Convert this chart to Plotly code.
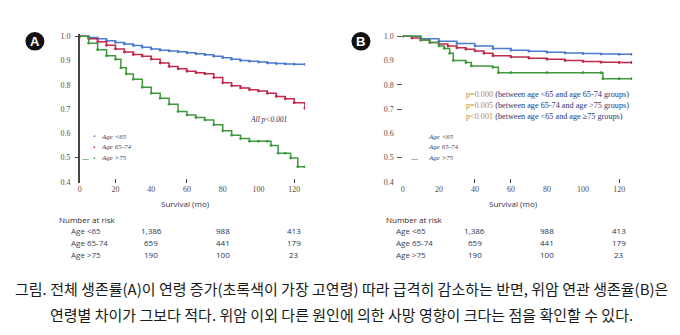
import plotly.graph_objects as go

W, H = 680, 335

# ---------------- data ----------------
groups = ["Age <65", "Age 65-74", "Age >75"]
colors = ["#4a7bd0", "#c02a4c", "#3f9a3f"]

# Panel A: overall survival
a_t_lt65 = [0, 5, 10, 15, 20, 25, 30, 35, 40, 45, 50, 55, 60, 65, 70, 75, 80, 85, 90, 95, 100, 105, 110, 115, 120, 126]
a_s_lt65 = [1.0, 0.995, 0.99, 0.982, 0.975, 0.968, 0.962, 0.955, 0.948, 0.943, 0.94, 0.936, 0.932, 0.928, 0.924,
            0.918, 0.912, 0.906, 0.9, 0.897, 0.894, 0.89, 0.888, 0.886, 0.885, 0.884]
a_t_6574 = [0, 5, 10, 15, 20, 25, 30, 35, 40, 45, 50, 55, 60, 65, 70, 75, 80, 85, 90, 95, 100, 105, 110, 115, 120, 126]
a_s_6574 = [1.0, 0.99, 0.978, 0.963, 0.948, 0.935, 0.925, 0.918, 0.906, 0.89, 0.876, 0.866, 0.856, 0.85, 0.846,
            0.83, 0.808, 0.796, 0.787, 0.78, 0.774, 0.765, 0.752, 0.742, 0.726, 0.703]
a_t_ge75 = [0, 5, 10, 15, 20, 23, 26, 30, 35, 40, 45, 50, 55, 60, 65, 70, 75, 80, 85, 90, 95, 100, 105, 107,
            111, 115, 118, 122, 126]
a_s_ge75 = [1.0, 0.972, 0.945, 0.92, 0.905, 0.87, 0.845, 0.823, 0.79, 0.765, 0.745, 0.72, 0.69, 0.675, 0.665,
            0.655, 0.635, 0.61, 0.592, 0.578, 0.567, 0.567, 0.567, 0.55, 0.518, 0.518, 0.498, 0.462, 0.461]

# Panel B: gastric-cancer-related survival
b_t_lt65 = [0, 10, 20, 30, 40, 50, 60, 70, 80, 90, 100, 110, 120, 127]
b_s_lt65 = [1.0, 0.99, 0.98, 0.97, 0.96, 0.95, 0.943, 0.938, 0.934, 0.931, 0.929, 0.927, 0.926, 0.926]
b_t_6574 = [0, 5, 10, 15, 20, 25, 30, 35, 40, 45, 50, 60, 70, 80, 90, 100, 110, 120, 127]
b_s_6574 = [1.0, 0.993, 0.985, 0.975, 0.968, 0.96, 0.953, 0.947, 0.94, 0.93, 0.92, 0.915, 0.91, 0.905, 0.9,
            0.896, 0.893, 0.892, 0.892]
b_t_ge75 = [0, 10, 15, 20, 23, 26, 28, 35, 38, 50, 53, 60, 80, 100, 110, 111, 120, 127]
b_s_ge75 = [1.0, 0.985, 0.975, 0.96, 0.95, 0.93, 0.9, 0.892, 0.878, 0.872, 0.85, 0.85, 0.85, 0.85, 0.85,
            0.825, 0.825, 0.825]

x_ticks = [0, 20, 40, 60, 80, 100, 120]
y_ticks = [0.4, 0.5, 0.6, 0.7, 0.8, 0.9, 1.0]
y_tick_text = ["0.4", "0.5", "0.6", "0.7", "0.8", "0.9", "1.0"]

risk_times = [40, 80, 120]
risk_lt65 = ["1,386", "988", "413"]
risk_6574 = ["659", "441", "179"]
risk_ge75 = ["190", "100", "23"]

p_all = "All p<0.001"
p_lines = [("p=0.000", "(between age <65 and age 65-74 groups)"),
           ("p=0.005", "(between age 65-74 and age >75 groups)"),
           ("p<0.001", "(between age <65 and age ≥75 groups)")]

caption1 = "그림. 전체 생존률(A)이 연령 증가(초록색이 가장 고연령) 따라 급격히 감소하는 반면, 위암 연관 생존율(B)은"
caption2 = "연령별 차이가 그보다 적다. 위암 이외 다른 원인에 의한 사망 영향이 크다는 점을 확인할 수 있다."

# ---------------- helpers ----------------
def px(x):
    return x / W

def py(y):
    return 1 - y / H

fig = go.Figure()

series = [
    ("x", "y", [(a_t_lt65, a_s_lt65), (a_t_6574, a_s_6574), (a_t_ge75, a_s_ge75)]),
    ("x2", "y2", [(b_t_lt65, b_s_lt65), (b_t_6574, b_s_6574), (b_t_ge75, b_s_ge75)]),
]
for xa, ya, data in series:
    for (t, s), name, col in zip(data, groups, colors):
        fig.add_trace(go.Scatter(
            x=t, y=s, xaxis=xa, yaxis=ya, mode="lines+markers", name=name,
            line=dict(color=col, width=1.5, shape="hv"),
            marker=dict(color=col, size=2.8), showlegend=False, hoverinfo="skip"))

tickfont = dict(family="Liberation Serif", size=8, color="#5d4a3e")
yA = [py(184), py(33)]
yrange = [0.396, 1.008]

fig.update_layout(
    width=W, height=H, margin=dict(l=0, r=0, t=0, b=0),
    paper_bgcolor="white", plot_bgcolor="white",
    xaxis=dict(domain=[px(78), px(304)], range=[0, 126.1], tickvals=x_ticks, ticks="",
               showline=False, showgrid=False, zeroline=False, tickfont=tickfont),
    yaxis=dict(domain=yA, range=yrange, tickvals=y_ticks, ticktext=y_tick_text, ticks="",
               showline=True, linecolor="#444", linewidth=1.5, showgrid=False, zeroline=False,
               tickfont=tickfont, ticklabelstandoff=6),
    xaxis2=dict(domain=[px(402), px(632)], range=[0, 127.2], tickvals=x_ticks, ticks="",
                showline=False, showgrid=False, zeroline=False, tickfont=tickfont, anchor="y2"),
    yaxis2=dict(domain=yA, range=yrange, tickvals=y_ticks, ticktext=y_tick_text, ticks="",
                showline=False, showgrid=False, zeroline=False, tickfont=tickfont, anchor="x2",
                ticklabelstandoff=8),
    # overlay axes carrying only the few visible tick marks
    xaxis3=dict(overlaying="x", range=[0, 126.1], tickvals=[20, 60, 120], ticks="inside", ticklen=4,
                tickcolor="#444", showticklabels=False, showgrid=False, zeroline=False, anchor="y"),
    xaxis4=dict(overlaying="x2", range=[0, 127.2], tickvals=[40, 60, 120], ticks="inside", ticklen=4,
                tickcolor="#444", showticklabels=False, showgrid=False, zeroline=False, anchor="y2"),
    yaxis3=dict(overlaying="y", range=yrange, tickvals=[1.0, 0.5], ticks="outside", ticklen=4,
                tickcolor="#444", showticklabels=False, showgrid=False, zeroline=False, anchor="x"),
    yaxis4=dict(overlaying="y2", range=yrange, tickvals=[1.0, 0.8, 0.7, 0.5], ticks="outside", ticklen=5,
                tickcolor="#555", showticklabels=False, showgrid=False, zeroline=False, anchor="x2"),
    showlegend=False,
)
# dummy traces so overlay axes are drawn
fig.add_trace(go.Scatter(x=[None], y=[None], xaxis="x3", yaxis="y3", showlegend=False))
fig.add_trace(go.Scatter(x=[None], y=[None], xaxis="x4", yaxis="y4", showlegend=False))

ann = []
shapes = []


def A(x, y, text, font, xanchor="center", xref="paper"):
    ann.append(dict(x=x, y=y, xref=xref, yref="paper", text=text, showarrow=False,
                    xanchor=xanchor, yanchor="middle", font=font))


# panel badges
for cx, letter in [(33, "A"), (360, "B")]:
    shapes.append(dict(type="circle", xref="paper", yref="paper", layer="below",
                       x0=px(cx - 9.5), x1=px(cx + 9.5), y0=py(49.5), y1=py(30.5),
                       fillcolor="#111", line=dict(color="#111", width=0)))
    A(px(cx), py(40), f"<b>{letter}</b>", dict(family="Liberation Sans", size=13, color="white"))

# axis titles
sans = "Open Sans"
for cx in [184, 513]:
    A(px(cx), py(205), "Survival (mo)", dict(family=sans, size=8, color="#2a3350"))

# legends
leg_rows = [137, 148, 159]
legfont = dict(family="Liberation Serif", size=7, color="#3a3f60")
for i, (name, col) in enumerate(zip(groups, colors)):
    A(px(93), py(leg_rows[i]), "•", dict(family=sans, size=7, color=col))
    A(px(97), py(leg_rows[i]), f"<i>{name}</i>", legfont, xanchor="left")
    A(px(425), py(leg_rows[i]), f"<i>{name}</i>", legfont, xanchor="left")
for cx in [84, 414]:
    A(px(cx), py(159), "—", dict(family=sans, size=7, color=colors[2]))

# p-values
A(px(267), py(120), f"<i>{p_all}</i>", dict(family="Liberation Serif", size=7.5, color="#2a3350"))
for i, (pv, desc) in enumerate(p_lines):
    A(px(463), py(94 + 11.5 * i), f"<span style='color:#c0893a'>{pv}</span> {desc}",
      dict(family="Liberation Serif", size=8.2, color="#2a3570"), xanchor="left")

# number at risk tables
rows = [("Age <65", risk_lt65), ("Age 65-74", risk_6574), ("Age >75", risk_ge75)]
row_y = [233, 245, 257]
tabfont = dict(family=sans, size=8, color="#2a3350")
for xa, lab_x, head_x in [("x", 67, 55), ("x2", 393, 383)]:
    A(px(head_x), py(221), "Number at risk", dict(family=sans, size=8, color="#3a2a2a"), xanchor="left")
    for (lab, vals), yy in zip(rows, row_y):
        A(px(lab_x), py(yy), lab, dict(family=sans, size=8, color="#3a3f55"), xanchor="left")
        for t, v in zip(risk_times, vals):
            A(t, py(yy), v, tabfont, xref=xa)

# caption
capfont = dict(family="Noto Sans CJK KR", size=15, color="#1a1a1a")
A(0.5, py(292), caption1, capfont)
A(0.5, py(318), caption2, capfont)

fig.update_layout(annotations=ann, shapes=shapes)
fig.write_html("out.html")
